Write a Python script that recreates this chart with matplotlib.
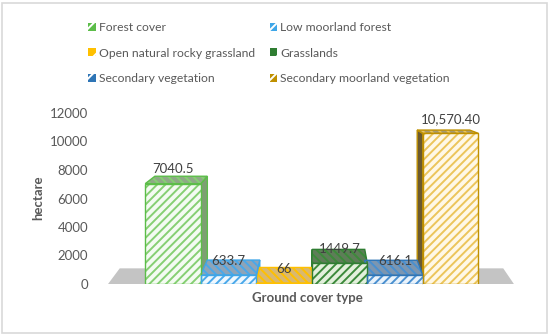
import matplotlib
matplotlib.use('Agg')
import matplotlib.pyplot as plt
from matplotlib.patches import Polygon, Patch, Rectangle

plt.rcParams['font.family'] = ['Lato', 'DejaVu Sans']
plt.rcParams['hatch.linewidth'] = 1.4

categories = ['Forest cover', 'Low moorland forest', 'Open natural rocky grassland',
              'Grasslands', 'Secondary vegetation', 'Secondary moorland vegetation']
values = [7040.5, 633.7, 66, 1449.7, 616.1, 10570.40]
value_labels = ['7040.5', '633.7', '66', '1449.7', '616.1', '10,570.40']
yticks = [0, 2000, 4000, 6000, 8000, 10000, 12000]

# styles
edge_colors = ['#5cbd49', '#3ea6e8', '#ffc000', '#2f7d32', '#2e75b6', '#bf9000']
stripe_colors = ['#86cf73', '#4aa8ea', '#ffc000', '#3c8a3a', '#4a90d0', '#ecc55a']
front_bg = ['#f4fbf2', '#f0f8fe', '#fff8e0', '#e3f0dc', '#eaf3fb', '#fff8e6']
top_colors = ['#8eaa86', '#8ea4b8', '#d9b870', '#5e7d58', '#7c96b0', '#a89a70']
side_colors = ['#7e9e74', '#7a94ab', '#c9a55a', '#4f6e4a', '#6a86a3', '#6b5a30']
text_grey = '#595959'

# fake perspective: vanishing point and depth factors (data units)
vx, vy = 2.65, 13400
fx, fy = 0.055, 0.082


def back(p):
    return (p[0] + fx * (vx - p[0]), p[1] + fy * (vy - p[1]))


def face(ax, pts, fc, hc, ec, hatch, z):
    ax.add_patch(Polygon(pts, closed=True, facecolor=fc, edgecolor=hc, lw=0,
                         hatch=hatch, zorder=z, clip_on=False))
    ax.add_patch(Polygon(pts, closed=True, facecolor='none', edgecolor=ec, lw=1.0,
                         zorder=z + 0.1, clip_on=False, joinstyle='miter'))


fig = plt.figure(figsize=(5.5, 3.35), dpi=100)
fig.patches.append(Rectangle((0.004, 0.006), 0.991, 0.986, transform=fig.transFigure,
                             facecolor='none', edgecolor='#d9d9d9', lw=1.2))
ax = fig.add_axes([95 / 550, 51 / 335, 425 / 550, 171 / 335])
ax.set_xlim(-1.405, 6.25)
ax.set_ylim(0, 12000)

n = len(values)
# floor
fl, fr = -0.5 - 0.67, n - 0.5 + 0.64
floor = [(fl, 0), (fr, 0), back((fr, 0)), back((fl, 0))]
ax.add_patch(Polygon(floor, closed=True, facecolor='#c4c4c4', edgecolor='none',
                     zorder=1, clip_on=False))

for i, v in enumerate(values):
    l, r = i - 0.5, i + 0.5
    # side face
    sx = r if i < vx else l
    side = [(sx, 0), (sx, v), back((sx, v)), back((sx, 0))]
    face(ax, side, side_colors[i], side_colors[i], edge_colors[i], None, 2)
    # top face
    top = [(l, v), (r, v), back((r, v)), back((l, v))]
    face(ax, top, top_colors[i], stripe_colors[i], edge_colors[i], '\\\\\\\\', 3)

# front faces
ax.bar(range(n), values, width=1.0, color=front_bg, edgecolor=stripe_colors,
       linewidth=0, hatch='////', zorder=4)
ax.bar(range(n), values, width=1.0, color='none', edgecolor=edge_colors,
       linewidth=1.0, zorder=4.1)

for i, v in enumerate(values):
    ax.annotate(value_labels[i], (i, v), xytext=(0, 7.5), textcoords='offset points',
                ha='center', va='baseline', fontsize=9.5, color='#404040', zorder=6)

for s in ax.spines.values():
    s.set_visible(False)
ax.set_xticks([])
ax.set_yticks(yticks)
ax.set_yticklabels([str(t) for t in yticks])
ax.tick_params(axis='y', length=0, pad=5, labelsize=9.5, labelcolor=text_grey)
ax.set_xlabel('Ground cover type', fontsize=9.5, fontweight='bold', color=text_grey,
              labelpad=6)
fig.text(38 / 550, 1 - 198 / 335, 'hectare', rotation=90, ha='center', va='center',
         fontsize=9.5, fontweight='bold', color=text_grey)

# legend is filled row by row in the reference
order = [0, 2, 4, 1, 3, 5]
handles = [Patch(facecolor=edge_colors[k], edgecolor='white', lw=0, hatch='//')
           for k in order]
labels = [categories[k] for k in order]
fig.legend(handles, labels, ncol=2, loc='upper left',
           bbox_to_anchor=(82 / 550, 1 - 16 / 335), frameon=False, fontsize=8.7,
           labelcolor=text_grey, handlelength=0.62, handleheight=0.62,
           handletextpad=0.28, labelspacing=1.2, columnspacing=1.2, borderpad=0)

plt.savefig('out.png', dpi=100)
